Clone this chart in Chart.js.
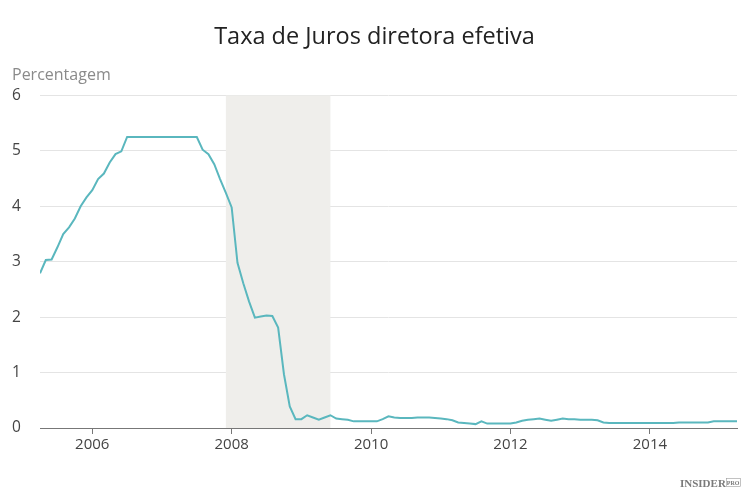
<!DOCTYPE html>
<html>
<head>
<meta charset="utf-8">
<script src="https://cdn.jsdelivr.net/npm/chart.js@4"></script>
<style>
  html, body { margin: 0; padding: 0; background: #fff; }
  #wrap { width: 750px; height: 499px; }
</style>
</head>
<body>
<div id="wrap"><canvas id="chart" width="750" height="499"></canvas></div>
<script>
// monthly effective rate, starting April 2005
const startYear = 2005;
const startMonth = 4;
const rates = [
  2.79, 3.03, 3.04, 3.26, 3.50, 3.62, 3.78, 4.00, 4.16,
  4.29, 4.49, 4.59, 4.79, 4.94, 4.99, 5.25, 5.25, 5.25, 5.25, 5.25, 5.25,
  5.25, 5.25, 5.25, 5.25, 5.25, 5.25, 5.25, 5.02, 4.94, 4.76, 4.49, 4.24,
  3.98, 2.98, 2.61, 2.28, 1.99, 2.01, 2.03, 2.02, 1.81, 0.97, 0.39, 0.16,
  0.16, 0.23, 0.19, 0.15, 0.19, 0.23, 0.17, 0.16, 0.15, 0.12, 0.12, 0.12,
  0.12, 0.12, 0.16, 0.21, 0.19, 0.18, 0.18, 0.18, 0.19, 0.19, 0.19, 0.18,
  0.17, 0.16, 0.14, 0.10, 0.09, 0.08, 0.07, 0.12, 0.08, 0.08, 0.08, 0.08,
  0.08, 0.10, 0.13, 0.15, 0.16, 0.17, 0.15, 0.13, 0.15, 0.17, 0.16, 0.16,
  0.15, 0.15, 0.15, 0.14, 0.10, 0.09, 0.09, 0.09, 0.09, 0.09, 0.09, 0.09,
  0.09, 0.09, 0.09, 0.09, 0.09, 0.10, 0.10, 0.10, 0.10, 0.10, 0.10, 0.12,
  0.12, 0.12, 0.12, 0.12
];
const yearTicks = [2006, 2008, 2010, 2012, 2014];
const recession = [2007 + 11 / 12, 2009 + 5 / 12]; // Dec 2007 - Jun 2009

const points = rates.map((v, i) => ({
  x: startYear + (startMonth - 1 + i) / 12,
  y: v,
}));

const recessionBand = {
  id: "recessionBand",
  beforeDatasetsDraw(chart) {
    const { ctx, chartArea, scales } = chart;
    const x0 = scales.x.getPixelForValue(recession[0]);
    const x1 = scales.x.getPixelForValue(recession[1]);
    ctx.save();
    ctx.fillStyle = "#efeeeb";
    ctx.fillRect(x0, chartArea.top, x1 - x0, chartArea.bottom - chartArea.top);
    ctx.restore();
  },
};

const logo = {
  id: "logo",
  afterDraw(chart) {
    const ctx = chart.ctx;
    ctx.save();
    ctx.fillStyle = "#7a7a7a";
    ctx.font = "bold 11px 'Liberation Serif', serif";
    ctx.textBaseline = "alphabetic";
    ctx.textAlign = "left";
    ctx.fillText("INSIDER", 680, 487);
    const w = ctx.measureText("INSIDER").width;
    ctx.font = "bold 6px 'Liberation Serif', serif";
    ctx.fillText("PRO", 681 + w, 485);
    ctx.strokeStyle = "#9a9a9a";
    ctx.lineWidth = 0.6;
    ctx.strokeRect(680.5 + w, 478.5, 14, 8);
    ctx.restore();
  },
};

new Chart(document.getElementById("chart"), {
  type: "line",
  data: {
    datasets: [
      {
        data: points,
        borderColor: "#5ab7be",
        borderWidth: 2,
        pointRadius: 0,
        tension: 0,
        fill: false,
      },
    ],
  },
  options: {
    responsive: false,
    animation: false,
    layout: { padding: { left: 12, right: 13, top: 15, bottom: 43 } },
    plugins: {
      legend: { display: false },
      tooltip: { enabled: false },
      title: {
        display: true,
        text: "Taxa de Juros diretora efetiva",
        color: "#222",
        font: { family: "'Open Sans', sans-serif", size: 23.5, weight: "normal" },
        padding: { top: 8, bottom: 15 },
      },
      subtitle: {
        display: true,
        text: "Percentagem",
        align: "start",
        color: "#8a8a8a",
        font: { family: "'Open Sans', sans-serif", size: 16, weight: "normal" },
        padding: { top: 0, bottom: 10 },
      },
    },
    scales: {
      x: {
        type: "linear",
        min: startYear + (startMonth - 1) / 12,
        max: 2015 + 3 / 12,
        afterBuildTicks(axis) {
          axis.ticks = yearTicks.map((v) => ({ value: v }));
        },
        border: { display: true, color: "#777", width: 1 },
        grid: { drawOnChartArea: false, drawTicks: true, tickLength: 6, color: "#777" },
        ticks: {
          color: "#444",
          font: { family: "'Open Sans', sans-serif", size: 15 },
          padding: 2,
          maxRotation: 0,
          callback: (v) => String(v),
        },
      },
      y: {
        min: 0,
        max: 6,
        afterFit(axis) { axis.width = 28; },
        border: { display: false },
        grid: { color: "#e4e4e4", drawTicks: false },
        ticks: {
          stepSize: 1,
          color: "#444",
          crossAlign: "far",
          padding: 0,
          font: { family: "'Open Sans', sans-serif", size: 15.5 },
        },
      },
    },
  },
  plugins: [recessionBand, logo],
});
</script>
</body>
</html>
